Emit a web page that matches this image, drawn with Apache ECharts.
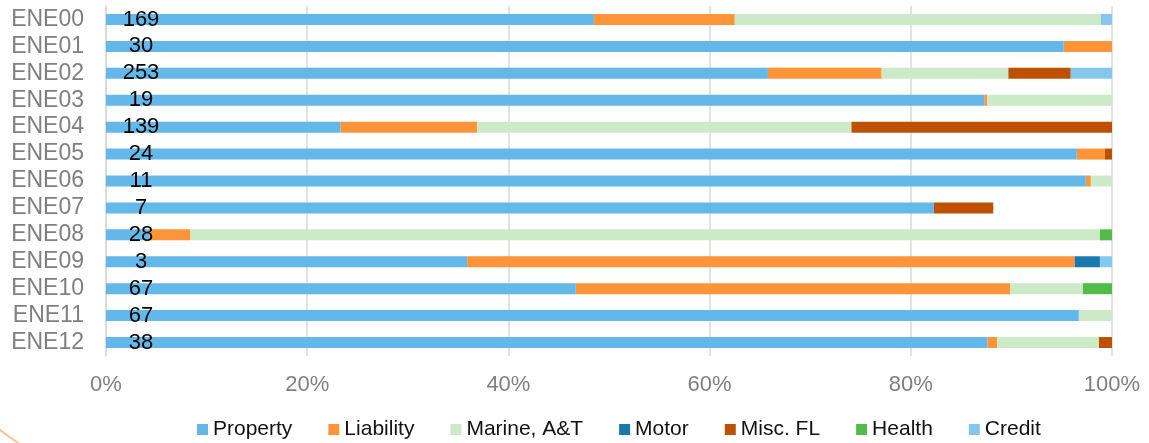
<!DOCTYPE html>
<html>
<head>
<meta charset="utf-8">
<script src="https://cdn.jsdelivr.net/npm/echarts@6/dist/echarts.min.js"></script>
<style>
html,body{margin:0;padding:0;background:#fff;}
#chart{width:1149px;height:443px;}
</style>
</head>
<body>
<div id="chart"></div>
<script>
const categories = ['ENE00','ENE01','ENE02','ENE03','ENE04','ENE05','ENE06','ENE07','ENE08','ENE09','ENE10','ENE11','ENE12'];
const counts = [169, 30, 253, 19, 139, 24, 11, 7, 28, 3, 67, 67, 38];
const seriesNames = ['Property','Liability','Marine, A&T','Motor','Misc. FL','Health','Credit'];
const property  = [48.5, 95.2, 65.8, 87.3, 23.3, 96.5, 97.4, 82.3, 4.3, 35.9, 46.7, 96.7, 87.6];
const liability = [14.0, 4.8, 11.3, 0.3, 13.6, 2.8, 0.5, 0, 4.1, 60.4, 43.2, 0, 1.0];
const marine    = [36.4, 0, 12.6, 12.4, 37.2, 0, 2.1, 0, 90.4, 0, 7.2, 3.3, 10.1];
const motor     = [0, 0, 0, 0, 0, 0, 0, 0, 0, 2.5, 0, 0, 0];
const miscFL    = [0, 0, 6.2, 0, 25.9, 0.7, 0, 5.9, 0, 0, 0, 0, 1.3];
const health    = [0, 0, 0, 0, 0, 0, 0, 0, 1.2, 0, 2.9, 0, 0];
const credit    = [1.1, 0, 4.1, 0, 0, 0, 0, 0, 0, 1.2, 0, 0, 0];
const xTicks = [0, 20, 40, 60, 80, 100];

const colors = ['#63b8e9', '#ff9438', '#cdeac8', '#1b78ae', '#bc5200', '#52bb49', '#84c8ef'];
const values = [property, liability, marine, motor, miscFL, health, credit];
const FONT = '"Liberation Sans", Arial, sans-serif';

const series = values.map((arr, i) => {
  const s = {
    name: seriesNames[i],
    type: 'bar',
    stack: 'total',
    barWidth: 11,
    data: arr,
    itemStyle: { color: colors[i] },
    z: 2
  };
  if (i === 0) {
    s.z = 3;
    s.label = {
      show: true,
      position: [35, '50%'],
      align: 'center',
      verticalAlign: 'middle',
      color: '#000',
      fontFamily: FONT,
      fontSize: 22,
      formatter: p => String(counts[p.dataIndex])
    };
  }
  return s;
});

const chart = echarts.init(document.getElementById('chart'), null, { renderer: 'canvas' });
chart.setOption({
  animation: false,
  color: colors,
  grid: { left: 106, right: 37, top: 6, bottom: 87, containLabel: false },
  legend: {
    data: seriesNames,
    left: 192,
    top: 414,
    itemWidth: 11,
    itemHeight: 11,
    itemGap: 36,
    icon: 'rect',
    textStyle: { fontFamily: FONT, fontSize: 21, color: '#111' }
  },
  xAxis: {
    type: 'value',
    min: xTicks[0],
    max: xTicks[xTicks.length - 1],
    interval: 20,
    axisLine: { show: false },
    axisTick: { show: false },
    splitLine: { show: true, lineStyle: { color: '#d9d9d9', width: 1.5 } },
    axisLabel: {
      formatter: '{value}%',
      fontFamily: FONT,
      fontSize: 22,
      color: '#7f7f7f',
      margin: 18
    }
  },
  yAxis: {
    type: 'category',
    data: categories,
    inverse: true,
    axisLine: { show: true, lineStyle: { color: '#d9d9d9', width: 1.5 } },
    axisTick: { show: false },
    axisLabel: {
      interval: 0,
      fontFamily: FONT,
      fontSize: 23,
      color: '#7f7f7f',
      margin: 22
    }
  },
  graphic: [{
    type: 'arc',
    silent: true,
    shape: { cx: 280, cy: 60, r: 464, startAngle: 2.1, endAngle: 2.3, clockwise: true },
    style: { stroke: '#fbc496', lineWidth: 2, fill: null }
  }],
  series: series
});
</script>
</body>
</html>
